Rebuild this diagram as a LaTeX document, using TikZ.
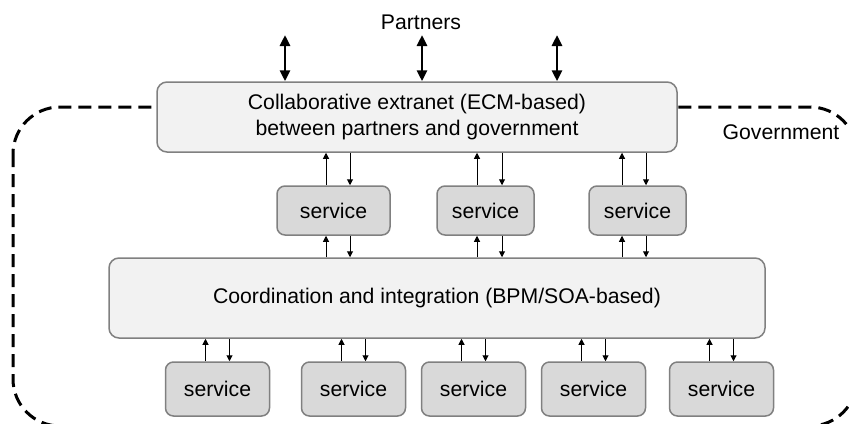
\documentclass[tikz,border=0pt]{standalone}
\usepackage{fontspec}
\setmainfont{Liberation Sans}
\usetikzlibrary{positioning,arrows.meta}

\definecolor{boxline}{RGB}{128,128,128}
\definecolor{layerfill}{RGB}{242,242,242}
\definecolor{servicefill}{RGB}{217,217,217}

\begin{document}
\begin{tikzpicture}[
    x=0.5pt, y=-0.5pt,
    font=\fontsize{10.6}{12.6}\selectfont,
    layer/.style={rectangle, draw=boxline, line width=0.75pt, rounded corners=5pt, fill=layerfill, align=center, inner sep=0pt},
    service/.style={rectangle, draw=boxline, line width=0.75pt, rounded corners=4pt, fill=servicefill, minimum height=24.5pt, inner sep=0pt},
    bigarrow/.style={{Triangle[width=5pt,length=5.5pt]}-{Triangle[width=5pt,length=5.5pt]}, line width=1.4pt},
    smallarrow/.style={-{Triangle[width=3pt,length=3pt]}, line width=0.5pt},
    boundary/.style={dash pattern=on 6.5pt off 3.5pt, line width=1.5pt, rounded corners=23.5pt}
]
\useasboundingbox (0,0) rectangle (849,423);
\clip (0,0) rectangle (849,423);

% Government boundary
\draw[boundary] (13,107) rectangle (857,426);

% Nodes
\node[layer, minimum width=260pt, minimum height=35pt] (extranet) at (417,117) {Collaborative extranet (ECM-based)\\between partners and government};
\node[layer, minimum width=328pt, minimum height=40pt] (coord) at (437,298) {Coordination and integration (BPM/SOA-based)};
\node (partners) at (421,22) {Partners};
\node (gov) at (781,132) {Government};

\node[service, minimum width=56.5pt] (s1) at (333.5,210.5) {service};
\node[service, minimum width=48.5pt] (s2) at (485.5,210.5) {service};
\node[service, minimum width=48.5pt] (s3) at (637.5,210.5) {service};

\foreach \name/\xx in {b1/217.5, b2/353.5, b3/473.5, b4/593.5, b5/721.5}
    \node[service, minimum width=52pt, minimum height=27pt] (\name) at (\xx,389) {service};

% Partner arrows
\coordinate (pa1) at (285,35);
\coordinate (pa2) at (422,35);
\coordinate (pa3) at (557,35);
\foreach \p in {pa1,pa2,pa3}
    \draw[bigarrow] (\p) -- (\p |- extranet.north);

% Arrows
\foreach \name/\up/\down in {s1/-3.75/8.25, s2/-4.25/8.25, s3/-7.75/4.25} {
    \draw[smallarrow] ([xshift=\up pt]\name.north) -- ([xshift=\up pt]\name.north |- extranet.south);
    \draw[smallarrow] ([xshift=\down pt]\name.north |- extranet.south) -- ([xshift=\down pt]\name.north);
    \draw[smallarrow] ([xshift=\up pt]\name.south |- coord.north) -- ([xshift=\up pt]\name.south);
    \draw[smallarrow] ([xshift=\down pt]\name.south) -- ([xshift=\down pt]\name.south |- coord.north);
}
\foreach \name in {b1,b2,b3,b4,b5} {
    \draw[smallarrow] ([xshift=-6pt]\name.north) -- ([xshift=-6pt]\name.north |- coord.south);
    \draw[smallarrow] ([xshift=6pt]\name.north |- coord.south) -- ([xshift=6pt]\name.north);
}

\end{tikzpicture}
\end{document}
